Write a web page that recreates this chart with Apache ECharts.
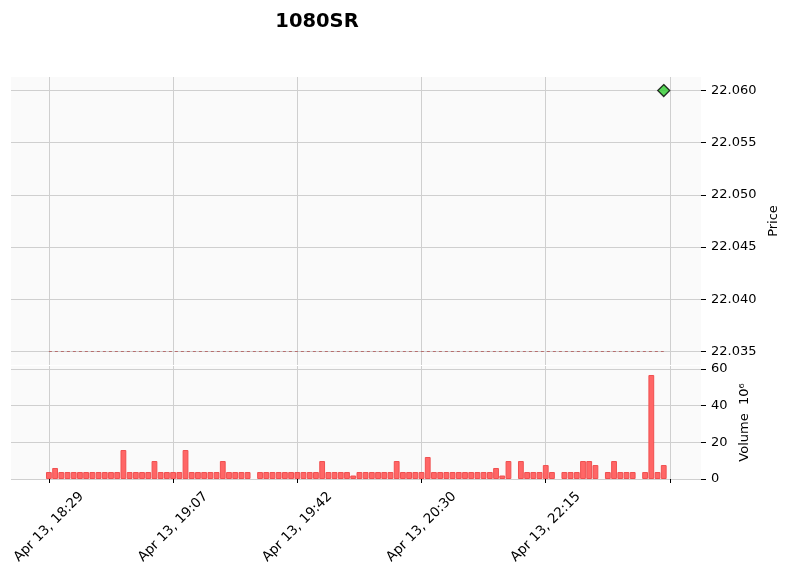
<!DOCTYPE html>
<html><head><meta charset="utf-8">
<script src="https://cdn.jsdelivr.net/npm/echarts@6/dist/echarts.min.js"></script>
<style>html,body{margin:0;padding:0;background:#fff}#c{width:789px;height:576px}</style>
</head><body><div id="c"></div>
<script>
const titleText = '1080SR';
const tickPositions = [0, 20, 40, 60, 80, 100];
const tickLabels = ['Apr 13, 18:29', 'Apr 13, 19:07', 'Apr 13, 19:42', 'Apr 13, 20:30', 'Apr 13, 22:15', ''];
const priceTicks = [22.035, 22.040, 22.045, 22.050, 22.055, 22.060];
const volumeTicks = [0, 20, 40, 60];
// volume in units of 10^6, one value per bar index (null = no bar)
const volume = [
  3.8, 6, 3.8, 3.8, 3.8, 3.8, 3.8, 3.8, 3.8, 3.8,
  3.8, 3.8, 15.8, 3.8, 3.8, 3.8, 3.8, 9.8, 3.8, 3.8,
  3.8, 3.8, 15.8, 3.8, 3.8, 3.8, 3.8, 3.8, 9.8, 3.8,
  3.8, 3.8, 3.8, null, 3.8, 3.8, 3.8, 3.8, 3.8, 3.8,
  3.8, 3.8, 3.8, 3.8, 9.8, 3.8, 3.8, 3.8, 3.8, 1.9,
  3.8, 3.8, 3.8, 3.8, 3.8, 3.8, 9.8, 3.8, 3.8, 3.8,
  3.8, 12, 3.8, 3.8, 3.8, 3.8, 3.8, 3.8, 3.8, 3.8,
  3.8, 3.8, 6, 1.9, 9.8, null, 9.8, 3.8, 3.8, 3.8,
  7.6, 3.8, null, 3.8, 3.8, 3.8, 9.8, 9.8, 7.6, null,
  3.8, 9.8, 3.8, 3.8, 3.8, null, 3.8, 56.7, 3.8, 7.6
];
const markerPoints = [[99, 22.060]];
const refLine = { level: 22.035, from: 0, to: 99 };

const font = 'DejaVu Sans';
const gridColor = '#cfcfcf';
const chart = echarts.init(document.getElementById('c'), null, { renderer: 'canvas' });

const xBase = {
  type: 'value', min: -6.1, max: 105,
  axisLine: { show: false, onZero: false },
  splitLine: { show: true, lineStyle: { color: gridColor, width: 1 } },
};

chart.setOption({
  animation: false,
  backgroundColor: '#ffffff',
  title: {
    text: titleText, left: 312, top: 7, textAlign: 'center',
    textStyle: { fontFamily: font, fontSize: 19.5, fontWeight: 'bold', color: '#000' }
  },
  grid: [
    { left: 11, right: 88, top: 77, height: 288, show: true, backgroundColor: '#fafafa', borderWidth: 0, outerBoundsMode: 'none', containLabel: false },
    { left: 11, right: 88, top: 366, height: 113, show: true, backgroundColor: '#fafafa', borderWidth: 0, outerBoundsMode: 'none', containLabel: false }
  ],
  xAxis: [
    Object.assign({}, xBase, {
      gridIndex: 0,
      axisTick: { show: false, customValues: tickPositions },
      axisLabel: { show: false, customValues: tickPositions },
    }),
    Object.assign({}, xBase, {
      gridIndex: 1,
      axisTick: { show: true, length: 4, customValues: tickPositions, lineStyle: { color: '#000' } },
      axisLabel: {
        customValues: tickPositions,
        formatter: v => tickLabels[tickPositions.indexOf(v)] || '',
        rotate: 45, align: 'center', verticalAlign: 'middle', margin: 48,
        fontFamily: font, fontSize: 13.5, color: '#000'
      },
    })
  ],
  yAxis: [
    {
      type: 'value', gridIndex: 0, position: 'right', min: 22.0337, max: 22.0613,
      name: 'Price', nameLocation: 'middle', nameRotate: 90, nameGap: 64,
      nameTextStyle: { fontFamily: font, fontSize: 13, color: '#000' },
      axisLine: { show: false, onZero: false },
      axisTick: { show: true, length: 5, customValues: priceTicks, lineStyle: { color: '#000' } },
      axisLabel: { customValues: priceTicks, formatter: v => v.toFixed(3), margin: 10, fontFamily: font, fontSize: 13, color: '#000' },
      splitLine: { show: true, lineStyle: { color: gridColor, width: 1 } }
    },
    {
      type: 'value', gridIndex: 1, position: 'right', min: 0, max: 61.6,
      name: 'Volume  10⁶', nameLocation: 'middle', nameRotate: 90, nameGap: 36,
      nameTextStyle: { fontFamily: font, fontSize: 13, color: '#000' },
      axisLine: { show: false, onZero: false },
      axisTick: { show: true, length: 5, customValues: volumeTicks, lineStyle: { color: '#000' } },
      axisLabel: { customValues: volumeTicks, formatter: v => String(Math.round(v)), margin: 10, fontFamily: font, fontSize: 13, color: '#000' },
      splitLine: { show: true, lineStyle: { color: gridColor, width: 1 } }
    }
  ],
  series: [
    {
      type: 'bar', xAxisIndex: 1, yAxisIndex: 1,
      data: volume.map((v, i) => [i, v]),
      barWidth: 5.8,
      itemStyle: { color: '#ff6666', borderColor: '#f05050', borderWidth: 1 }
    },
    {
      type: 'scatter', xAxisIndex: 0, yAxisIndex: 0,
      data: markerPoints,
      symbol: 'diamond', symbolSize: [12, 12],
      itemStyle: { color: '#2fcc2f', borderColor: '#000', borderWidth: 1.3 },
      markLine: {
        silent: true, symbol: 'none', label: { show: false },
        lineStyle: { color: '#b05555', width: 0.8, type: [3, 3] },
        data: [[{ coord: [refLine.from, refLine.level] }, { coord: [refLine.to, refLine.level] }]]
      },
      z: 5
    }
  ]
});
</script></body></html>
